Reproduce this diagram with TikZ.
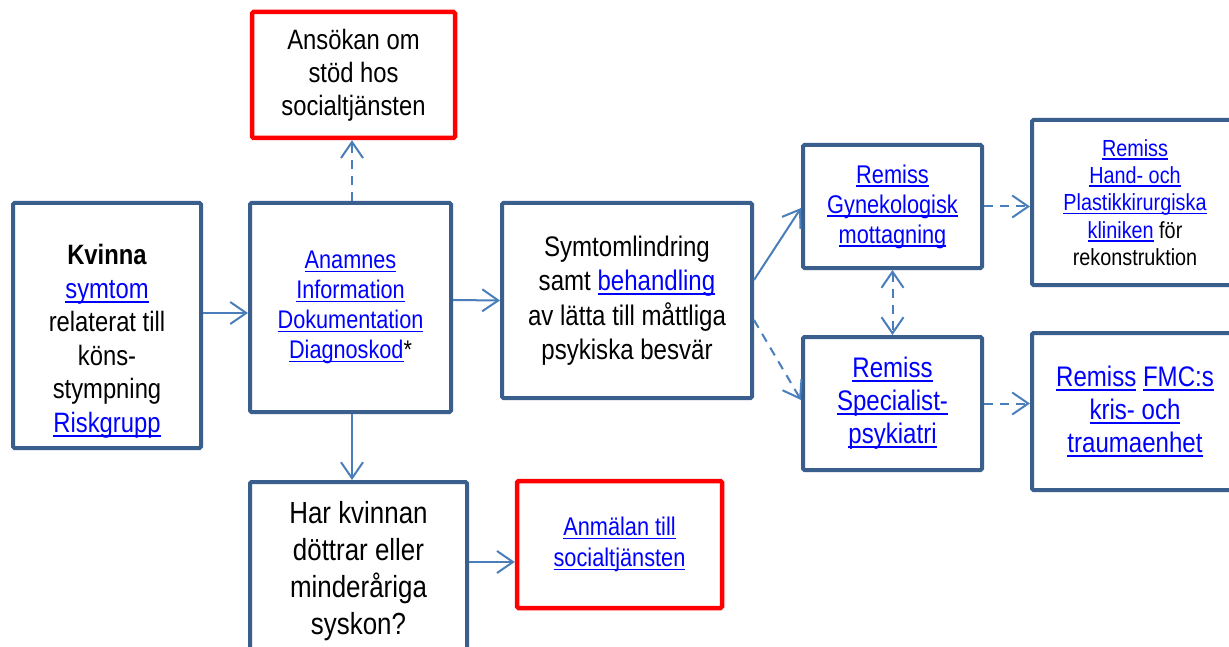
\documentclass[tikz,border=0pt]{standalone}
\usepackage{fontspec}
\setmainfont{Liberation Sans}[FakeStretch=0.85]
\usetikzlibrary{arrows.meta}
\definecolor{boxblue}{HTML}{3A5F8C}
\definecolor{arrblue}{HTML}{4A7EBB}
\definecolor{linkblue}{HTML}{0000FF}
% underlined link text
\newcommand\lnk[1]{{\color{linkblue}\setbox0\hbox{#1}\rlap{\rule[-.15em]{\wd0}{.075em}}\box0}}

\begin{document}
\begin{tikzpicture}[x=1pt,y=-1pt,
  >={Straight Barb[length=16pt,width=22pt]},
  box/.style={draw=boxblue,line width=4pt,rounded corners=1.5pt,align=center,inner sep=0pt},
  redbox/.style={box,draw=red,line width=4.5pt},
  arr/.style={draw=arrblue,line width=2pt,->},
  darr/.style={arr,dash pattern=on 9pt off 7pt}]
  \useasboundingbox (0,0) rectangle (1229,647);
  \fill[white] (0,0) rectangle (1229,647);
  \clip (0,0) rectangle (1229,647);

  % left column
  \node[box,minimum width=188pt,minimum height=245pt] (kvinna) at (107,325.5) {};
  \node[align=center,font=\fontsize{28}{33.5}\selectfont] (kvinnatext) at ([yshift=-16pt]kvinna.center)
    {\textbf{Kvinna}\\ \lnk{symtom}\\ relaterat till\\ köns-\\ stympning\\ \lnk{Riskgrupp}};

  % middle column
  \node[redbox,minimum width=203pt,minimum height=126pt,font=\fontsize{28}{33}\selectfont] (ansokan) at (353.5,75)
    {Ansökan om\\ stöd hos\\ socialtjänsten};
  \node[box,minimum width=201pt,minimum height=209pt,font=\fontsize{25.5}{30}\selectfont] (anamnes) at (350.5,307.5)
    {\lnk{Anamnes}\\ \lnk{Information}\\ \lnk{Dokumentation}\\ \lnk{Diagnoskod}*};
  \node[box,minimum width=217pt,minimum height=178pt,font=\fontsize{30.5}{37}\selectfont] (harkvinnan) at (358.5,571)
    {Har kvinnan\\ döttrar eller\\ minderåriga\\ syskon?};
  \node[redbox,minimum width=205pt,minimum height=127pt,font=\fontsize{25.6}{31}\selectfont] (anmalan) at (619.5,544.5)
    {\lnk{Anmälan till}\\ \lnk{socialtjänsten}};
  \node[box,minimum width=250pt,minimum height=195pt,font=\fontsize{28.3}{34.5}\selectfont] (symtom) at (627,300.5)
    {Symtomlindring\\ samt \lnk{behandling}\\ av lätta till måttliga\\ psykiska besvär};

  % remisser
  \node[box,minimum width=179pt,minimum height=123pt,font=\fontsize{25.6}{30}\selectfont] (gyn) at (892.5,206.5)
    {\lnk{Remiss}\\ \lnk{Gynekologisk}\\ \lnk{mottagning}};
  \node[box,minimum width=179pt,minimum height=133pt,font=\fontsize{28.3}{33}\selectfont] (spec) at (892.5,403.5)
    {\lnk{Remiss}\\ \lnk{Specialist-}\\ \lnk{psykiatri}};
  \node[box,minimum width=206pt,minimum height=165pt,font=\fontsize{23.3}{27.3}\selectfont] (hand) at (1135,202.5)
    {\lnk{Remiss}\\ \lnk{Hand- och}\\ \lnk{Plastikkirurgiska}\\ \lnk{kliniken} för\\ rekonstruktion};
  \node[box,minimum width=206pt,minimum height=157pt,font=\fontsize{28.3}{33}\selectfont] (fmc) at (1135,411.5)
    {\lnk{Remiss} \lnk{FMC:s}\\ \lnk{kris- och}\\ \lnk{traumaenhet}};

  % connectors
  \draw[arr] ([yshift=12.5pt]kvinna.east) -- ([yshift=-5.5pt]anamnes.west);
  \draw[arr] ([yshift=7.5pt]anamnes.east) -- (symtom.west);
  \draw[darr] ([xshift=1.5pt]anamnes.north) -- ([xshift=-1.5pt]ansokan.south);
  \draw[arr] ([xshift=1.5pt]anamnes.south) -- ([xshift=-6.5pt]harkvinnan.north);
  \draw[arr] ([yshift=9pt]harkvinnan.east) -- ([yshift=-17.5pt]anmalan.west);
  \draw[arr] ([yshift=20.5pt]symtom.east) -- ([yshift=-1.5pt]gyn.west);
  \draw[darr] ([yshift=-19.5pt]symtom.east) -- ([yshift=3.5pt]spec.west);
  \draw[darr,<->] (gyn.south) -- (spec.north);
  \draw[darr] (gyn.east) -- (gyn.east -| hand.west);
  \draw[darr] (spec.east) -- (spec.east -| fmc.west);
\end{tikzpicture}
\end{document}
